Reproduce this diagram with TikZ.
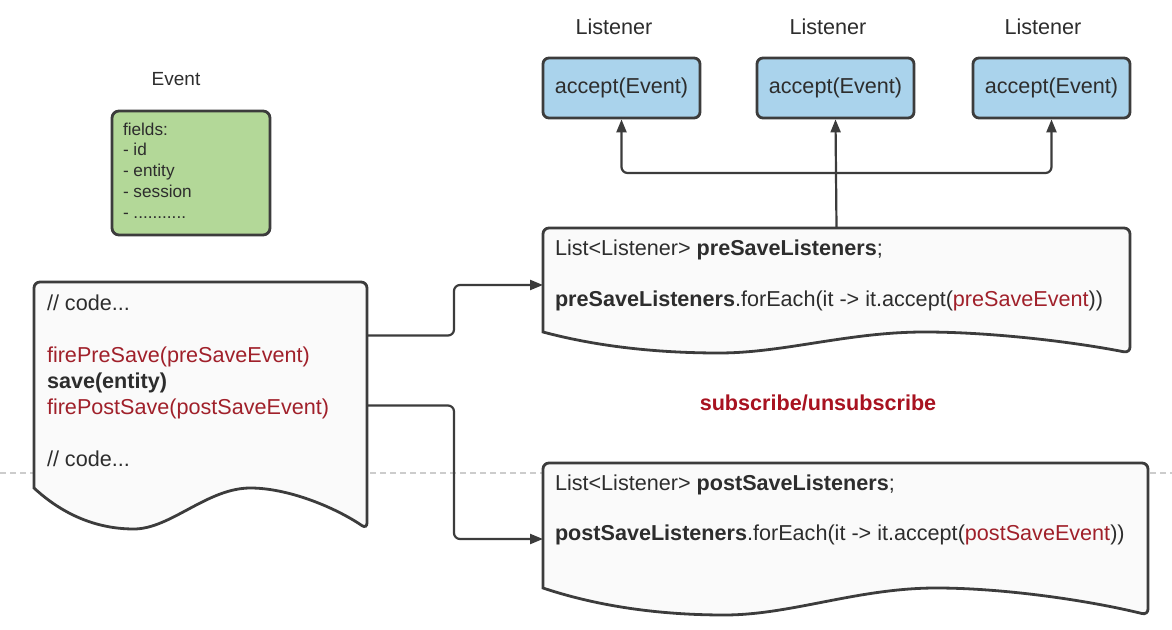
\documentclass[tikz,border=0pt]{standalone}
\usepackage{fontspec}
\setmainfont{Liberation Sans}
\usetikzlibrary{arrows.meta,calc}
\definecolor{ink}{RGB}{45,45,45}
\definecolor{edge}{RGB}{60,60,60}
\definecolor{lsnblue}{RGB}{170,211,236}
\definecolor{evgreen}{RGB}{179,216,152}
\definecolor{docfill}{RGB}{250,250,250}
\definecolor{codered}{RGB}{160,32,42}
\definecolor{subred}{RGB}{168,18,32}
\newcommand{\mainsz}{\fontsize{10.8}{13}\selectfont}
\newcommand{\evsz}{\fontsize{8.6}{10.3}\selectfont}
\newcommand{\evlblsz}{\fontsize{9.5}{11.4}\selectfont}
% document outline: node, width (px), wave depth (px)
\newcommand{\docshape}[3]{%
  \draw[docline] (#1.south east)
    .. controls +(-0.1*#2,-0.55*#3) and +(0.11*#2,0) .. ($(#1.south west)+(0.65*#2,-#3)$)
    .. controls +(-0.13*#2,0) and +(0.11*#2,0) .. ($(#1.south west)+(0.3*#2,0)$)
    .. controls +(-0.12*#2,0) and +(0.08*#2,0.6*#3) .. ($(#1.south west)+(0,-#3)$)
    [rounded corners=3pt] -- (#1.north west) -- (#1.north east) -- cycle;}
\tikzset{
  >={Triangle[length=6.5pt,width=5pt]},
  every picture/.style={line width=1pt},
  lsn/.style={draw=edge,fill=lsnblue,rounded corners=3pt,line width=1.4pt,minimum width=78.5pt,minimum height=30pt,inner sep=0pt,font=\mainsz,text=ink},
  evbox/.style={draw=edge,fill=evgreen,rounded corners=3.5pt,line width=1.4pt,minimum width=79pt,minimum height=62pt},
  docbox/.style={inner sep=0pt,outer sep=0pt},
  docline/.style={draw=edge,fill=docfill,line width=1.4pt},
  txt/.style={anchor=west,inner sep=0pt,text height=0.75em,text depth=0.2em,font=\mainsz,text=ink},
  small/.style={anchor=west,inner sep=0pt,text height=0.75em,text depth=0.2em,font=\evsz,text=ink},
  hd/.style={inner sep=0pt,font=\mainsz,text=ink},
  conn/.style={->,draw=edge,line width=1.1pt,rounded corners=3pt},
  gridline/.style={draw=black!20,line width=0.6pt,dash pattern=on 3pt off 2pt},
}
\begin{document}
\begin{tikzpicture}[x=0.5pt,y=-0.5pt]
\fill[white] (0,0) rectangle (1172,630);
\useasboundingbox (0,0) rectangle (1172,630);
\draw[gridline] (0,473) -- (1172,473);
% event
\node[hd,font=\evlblsz] (evt) at (176,79) {Event};
\node[evbox] (evb) at (191,173) {};
\node[small] (f1) at (122,130) {fields:};
\node[small] (f2) at (122,150) {- id};
\node[small] (f3) at (122,171) {- entity};
\node[small] (f4) at (122,192) {- session};
\node[small] (f5) at (122,213) {- ...........};
% listeners
\node[lsn] (l1) at (621.5,88) {accept(Event)};
\node[lsn] (l2) at (835.5,88) {accept(Event)};
\node[lsn] (l3) at (1051.5,88) {accept(Event)};
\node[hd] (n1) at (614,27) {Listener};
\node[hd] (n2) at (828,27) {Listener};
\node[hd] (n3) at (1043,27) {Listener};
% code
\node[docbox,minimum width=166.5pt,minimum height=123.5pt] (code) at (200.5,405.5) {};
\docshape{code}{333}{41}
\node[txt] (c1) at (46,305) {// code...};
\node[txt,text=codered] (c2) at (46,357) {firePreSave(preSaveEvent)};
\node[txt,font=\mainsz\bfseries] (c3) at (46,383) {save(entity)};
\node[txt,text=codered] (c4) at (46,409) {firePostSave(postSaveEvent)};
\node[txt] (c5) at (46,461) {// code...};
% pre save
\node[docbox,minimum width=293.5pt,minimum height=62.5pt] (pre) at (836.5,290.5) {};
\docshape{pre}{587}{21}
\node[txt] (pre1) at (554,250) {List<Listener> \textbf{preSaveListeners};};
\node[txt] (pre2) at (554,301) {\textbf{preSaveListeners}.forEach(it -> it.accept(\textcolor{codered}{preSaveEvent}))};
% post save
\node[docbox,minimum width=302.5pt,minimum height=76pt] (post) at (845.5,539) {};
\docshape{post}{605}{27}
\node[txt] (post1) at (554,485) {List<Listener> \textbf{postSaveListeners};};
\node[txt] (post2) at (554,535) {\textbf{postSaveListeners}.forEach(it -> it.accept(\textcolor{codered}{postSaveEvent}))};
\node[hd,font=\mainsz\bfseries,text=subred] (sub) at (818,403) {subscribe/unsubscribe};
% connectors
\coordinate (hub) at (pre.north |- 0,173);
\draw[conn] (pre.north) -- (l2.south);
\draw[conn] (hub) -| (l1.south);
\draw[conn] (hub) -| (l3.south);
\draw[conn] ([yshift=35pt]code.east) -- ++(87,0) |- ([yshift=2.75pt]pre.west);
\draw[conn] (code.east) -- ++(87,0) |- (post.west);
\end{tikzpicture}
\end{document}
